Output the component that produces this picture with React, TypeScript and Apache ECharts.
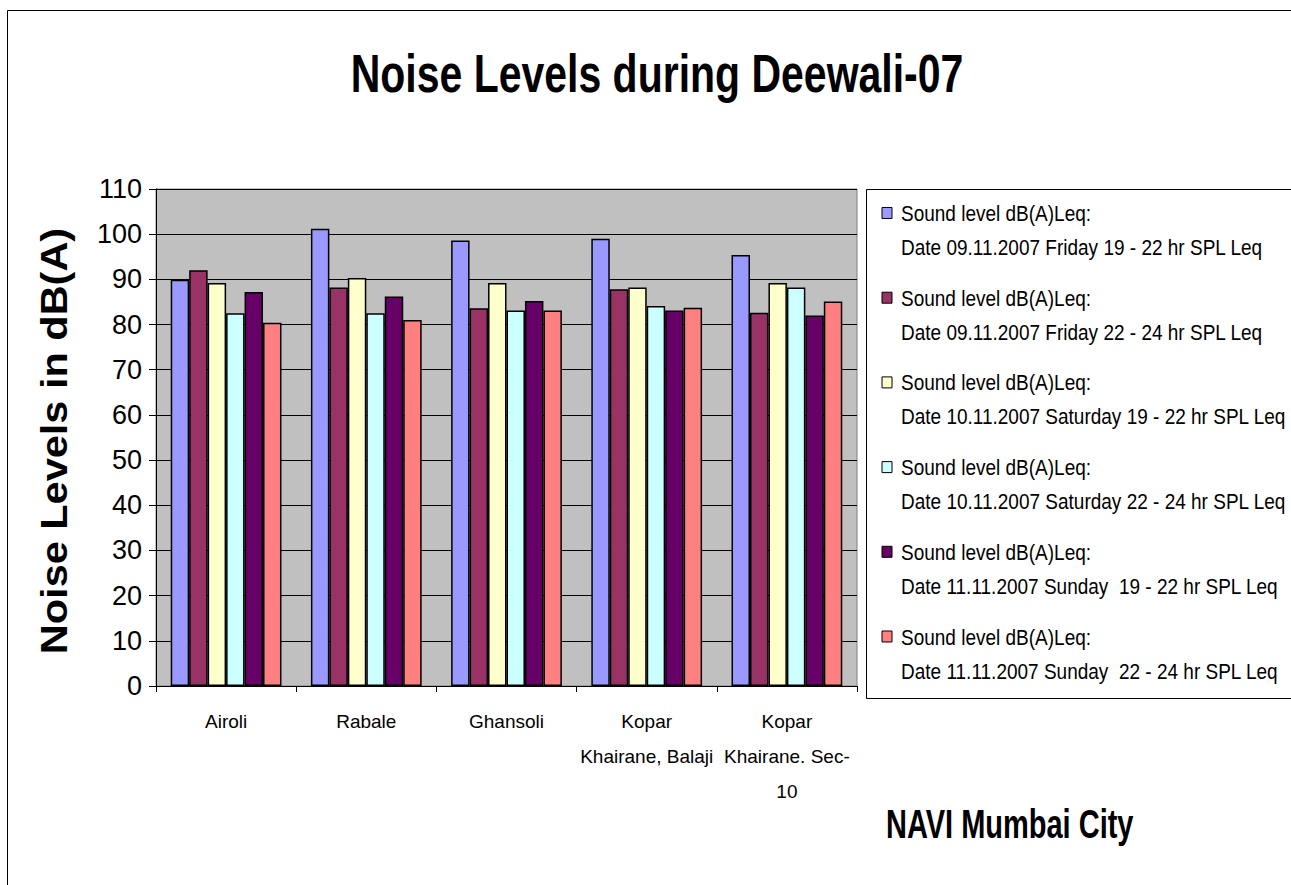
import React, { useEffect, useRef } from "react";
import * as echarts from "echarts";

const categories = [
  "Airoli",
  "Rabale",
  "Ghansoli",
  "Kopar\nKhairane, Balaji",
  "Kopar\nKhairane. Sec-\n10",
];

const seriesNames = [
  "Sound level dB(A)Leq:\nDate 09.11.2007 Friday 19 - 22 hr SPL Leq",
  "Sound level dB(A)Leq:\nDate 09.11.2007 Friday 22 - 24 hr SPL Leq",
  "Sound level dB(A)Leq:\nDate 10.11.2007 Saturday 19 - 22 hr SPL Leq",
  "Sound level dB(A)Leq:\nDate 10.11.2007 Saturday 22 - 24 hr SPL Leq",
  "Sound level dB(A)Leq:\nDate 11.11.2007 Sunday  19 - 22 hr SPL Leq",
  "Sound level dB(A)Leq:\nDate 11.11.2007 Sunday  22 - 24 hr SPL Leq",
];

const fri1922 = [89.9, 101.2, 98.6, 99.0, 95.4];
const fri2224 = [92.0, 88.2, 83.6, 87.8, 82.6];
const sat1922 = [89.2, 90.3, 89.2, 88.2, 89.2];
const sat2224 = [82.5, 82.5, 83.1, 84.1, 88.2];
const sun1922 = [87.2, 86.2, 85.2, 83.1, 82.0];
const sun2224 = [80.4, 81.0, 83.1, 83.7, 85.1];

const seriesValues = [fri1922, fri2224, sat1922, sat2224, sun1922, sun2224];
const colors = ["#9999FF", "#993366", "#FFFFCC", "#CCFFFF", "#660066", "#FF8080"];

const FONT = "'Liberation Sans', Arial, sans-serif";

export default function App() {
  const ref = useRef<HTMLDivElement>(null);

  useEffect(() => {
    document.body.style.margin = "0";
    if (!ref.current) return;
    const chart = echarts.init(ref.current, undefined, { renderer: "svg" });

    const legendItems: any[] = [];
    seriesNames.forEach((name, i) => {
      const lines = name.split("\n");
      const y0 = 213 + i * 84.7;
      legendItems.push({
        type: "rect",
        shape: { x: 882, y: y0 - 5.5, width: 10, height: 11 },
        style: { fill: colors[i], stroke: "#000", lineWidth: 1 },
      });
      lines.forEach((ln, j) => {
        legendItems.push({
          type: "text",
          x: 901,
          y: y0 + j * 34,
          scaleY: 1.15,
          style: {
            text: ln,
            font: `19px ${FONT}`,
            fill: "#000",
            textVerticalAlign: "middle",
            verticalAlign: "middle",
          },
        });
      });
    });

    chart.setOption({
      animation: false,
      backgroundColor: "#fff",
      textStyle: { fontFamily: FONT },
      grid: {
        left: 156,
        top: 189,
        width: 701,
        height: 497,
        show: true,
        backgroundColor: "#C0C0C0",
        borderColor: "#808080",
        borderWidth: 1,
      },
      xAxis: {
        type: "category",
        data: categories,
        axisLine: { lineStyle: { color: "#000", width: 1 } },
        axisTick: { show: true, length: 6, lineStyle: { color: "#000" } },
        axisLabel: {
          color: "#000",
          fontSize: 19,
          lineHeight: 35,
          margin: 18,
          interval: 0,
          fontFamily: FONT,
        },
      },
      yAxis: {
        type: "value",
        min: 0,
        max: 110,
        interval: 10,
        axisLine: { show: true, lineStyle: { color: "#000", width: 1 } },
        axisTick: { show: true, length: 7, lineStyle: { color: "#000" } },
        axisLabel: { color: "#000", fontSize: 27, margin: 14, fontFamily: FONT },
        splitLine: { show: true, lineStyle: { color: "#000", width: 1 } },
      },
      series: seriesNames.map((name, i) => ({
        name,
        type: "bar",
        data: seriesValues[i],
        barGap: "0%",
        barCategoryGap: "21%",
        itemStyle: { color: colors[i], borderColor: "#000", borderWidth: 1.5 },
      })),
      graphic: [
        {
          type: "rect",
          shape: { x: 7.5, y: 10.5, width: 1300, height: 900 },
          style: { fill: "none", stroke: "#000", lineWidth: 1 },
          z: 100,
        },
        {
          type: "text",
          x: 657,
          y: 74,
          scaleY: 1.3,
          style: {
            text: "Noise Levels during Deewali-07",
            font: `bold 41px ${FONT}`,
            fill: "#000",
            textAlign: "center",
            textVerticalAlign: "middle",
            align: "center",
            verticalAlign: "middle",
          },
        },
        {
          type: "text",
          x: 54,
          y: 441,
          rotation: Math.PI / 2,
          scaleX: 1.22,
          scaleY: 1.1,
          style: {
            text: "Noise Levels in dB(A)",
            font: `bold 34px ${FONT}`,
            fill: "#000",
            textAlign: "center",
            textVerticalAlign: "middle",
            align: "center",
            verticalAlign: "middle",
          },
        },
        {
          type: "text",
          x: 886,
          y: 824,
          scaleY: 1.4,
          style: {
            text: "NAVI Mumbai City",
            font: `bold 29px ${FONT}`,
            fill: "#000",
            textVerticalAlign: "middle",
            verticalAlign: "middle",
          },
        },
        {
          type: "rect",
          shape: { x: 866.5, y: 189.5, width: 440, height: 509 },
          style: { fill: "#fff", stroke: "#000", lineWidth: 1 },
        },
        ...legendItems,
      ],
    });

    return () => chart.dispose();
  }, []);

  return <div ref={ref} style={{ width: 1291, height: 885 }} />;
}
